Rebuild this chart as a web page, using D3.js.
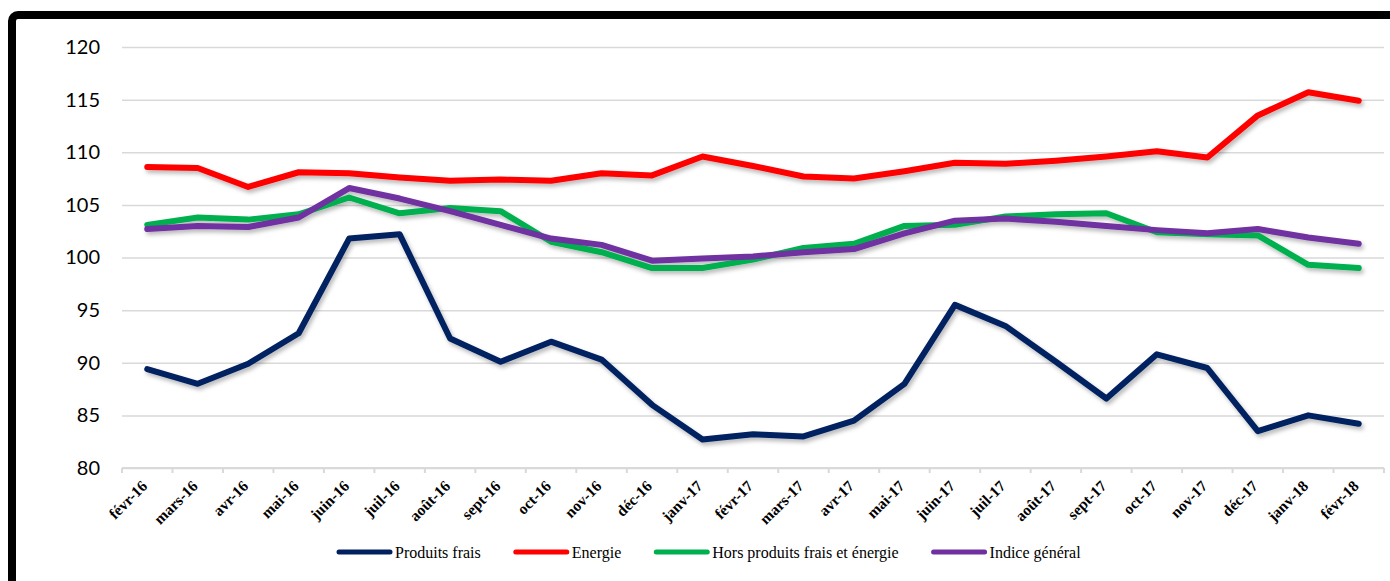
<!DOCTYPE html>
<html lang="fr">
<head>
<meta charset="UTF-8">
<script src="https://d3js.org/d3.v7.min.js"></script>
<title>Indices de prix</title>
<style>
  body { margin: 0; background: #fff; }
</style>
</head>
<body>
<script>
  const months = ["févr-16", "mars-16", "avr-16", "mai-16", "juin-16", "juil-16", "août-16", "sept-16",
    "oct-16", "nov-16", "déc-16", "janv-17", "févr-17", "mars-17", "avr-17", "mai-17", "juin-17",
    "juil-17", "août-17", "sept-17", "oct-17", "nov-17", "déc-17", "janv-18", "févr-18"];

  const produitsFrais = [89.4, 88.0, 89.9, 92.8, 101.8, 102.2, 92.3, 90.1, 92.0, 90.3, 86.0, 82.7,
    83.2, 83.0, 84.5, 88.0, 95.5, 93.5, 90.1, 86.6, 90.8, 89.5, 83.5, 85.0, 84.2];
  const energie = [108.6, 108.5, 106.7, 108.1, 108.0, 107.6, 107.3, 107.4, 107.3, 108.0, 107.8, 109.6,
    108.7, 107.7, 107.5, 108.2, 109.0, 108.9, 109.2, 109.6, 110.1, 109.5, 113.5, 115.7, 114.9];
  const horsFraisEnergie = [103.1, 103.8, 103.6, 104.1, 105.7, 104.2, 104.7, 104.4, 101.5, 100.5, 99.0, 99.0,
    99.8, 100.9, 101.3, 103.0, 103.1, 103.9, 104.1, 104.2, 102.4, 102.2, 102.1, 99.3, 99.0];
  const indiceGeneral = [102.7, 103.0, 102.9, 103.8, 106.6, 105.6, 104.4, 103.1, 101.8, 101.2, 99.7, 99.9,
    100.1, 100.5, 100.8, 102.3, 103.5, 103.7, 103.4, 103.0, 102.6, 102.3, 102.7, 101.9, 101.3];

  const yTicks = [80, 85, 90, 95, 100, 105, 110, 115, 120];

  const series = [
    { name: "Produits frais", values: produitsFrais, color: "#002060" },
    { name: "Energie", values: energie, color: "#ff0000" },
    { name: "Hors produits frais et énergie", values: horsFraisEnergie, color: "#00b050" },
    { name: "Indice général", values: indiceGeneral, color: "#7030a0" }
  ];

  const width = 1390, height = 581;
  const margin = { top: 47, right: 6, bottom: 113, left: 122 };

  const svg = d3.select("body").append("svg")
    .attr("width", width)
    .attr("height", height)
    .attr("viewBox", [0, 0, width, height]);

  // excel-like soft shadow under the lines
  const defs = svg.append("defs");
  defs.append("filter")
    .attr("id", "shadow")
    .attr("x", "-5%").attr("y", "-20%").attr("width", "110%").attr("height", "140%")
    .append("feDropShadow")
    .attr("dx", 2).attr("dy", 3).attr("stdDeviation", 2)
    .attr("flood-color", "#000").attr("flood-opacity", 0.28);

  svg.append("rect")
    .attr("x", 12).attr("y", 15)
    .attr("width", 1500).attr("height", 700)
    .attr("rx", 6)
    .attr("fill", "#fff")
    .attr("stroke", "#000")
    .attr("stroke-width", 8);

  const x = d3.scaleBand()
    .domain(months)
    .range([margin.left, width - margin.right]);

  const y = d3.scaleLinear()
    .domain([80, 120])
    .range([height - margin.bottom, margin.top]);

  const cx = d => x(d) + x.bandwidth() / 2;

  // gridlines + y labels
  const yAxis = g => g
    .attr("transform", `translate(${margin.left},0)`)
    .call(d3.axisLeft(y).tickValues(yTicks).tickSize(-(width - margin.left - margin.right)).tickPadding(22))
    .call(g => g.select(".domain").remove())
    .call(g => g.selectAll(".tick line").attr("stroke", "#d9d9d9").attr("stroke-width", 1.5))
    .call(g => g.selectAll(".tick text")
      .attr("font-family", "Lato, 'Open Sans', sans-serif")
      .attr("font-size", 20)
      .attr("fill", "#000"));

  svg.append("g").call(yAxis);

  // x axis: line, ticks on band edges, rotated labels
  const xg = svg.append("g");
  xg.append("line")
    .attr("x1", margin.left).attr("x2", width - margin.right)
    .attr("y1", y(80)).attr("y2", y(80))
    .attr("stroke", "#d9d9d9").attr("stroke-width", 2);

  xg.selectAll(".edge")
    .data(months.concat([null]))
    .join("line")
    .attr("class", "edge")
    .attr("x1", d => d === null ? width - margin.right : x(d))
    .attr("x2", d => d === null ? width - margin.right : x(d))
    .attr("y1", y(80)).attr("y2", y(80) + 5)
    .attr("stroke", "#d9d9d9").attr("stroke-width", 2);

  xg.selectAll(".lbl")
    .data(months)
    .join("text")
    .attr("class", "lbl")
    .attr("transform", d => `translate(${cx(d) + 1},${y(80) + 19}) rotate(-45)`)
    .attr("text-anchor", "end")
    .attr("font-family", "'Liberation Serif', 'Times New Roman', serif")
    .attr("font-weight", "bold")
    .attr("font-size", 15.5)
    .text(d => d);

  // series lines
  const line = d3.line()
    .x((v, i) => cx(months[i]))
    .y(v => y(v));

  svg.append("g")
    .attr("filter", "url(#shadow)")
    .selectAll("path")
    .data(series)
    .join("path")
    .attr("fill", "none")
    .attr("stroke", d => d.color)
    .attr("stroke-width", 6)
    .attr("stroke-linejoin", "round")
    .attr("stroke-linecap", "round")
    .attr("d", d => line(d.values));

  // legend
  const legend = svg.append("g").attr("transform", "translate(337,552)");
  let lx = 0;
  series.forEach(s => {
    const item = legend.append("g").attr("transform", `translate(${lx},0)`);
    item.append("line")
      .attr("x1", 2).attr("x2", 53)
      .attr("stroke", s.color)
      .attr("stroke-width", 5)
      .attr("stroke-linecap", "round");
    const t = item.append("text")
      .attr("x", 58).attr("y", 6)
      .attr("font-family", "'Liberation Serif', 'Times New Roman', serif")
      .attr("font-size", 16)
      .text(s.name);
    lx += 58 + t.node().getComputedTextLength() + 33;
  });
</script>
</body>
</html>
